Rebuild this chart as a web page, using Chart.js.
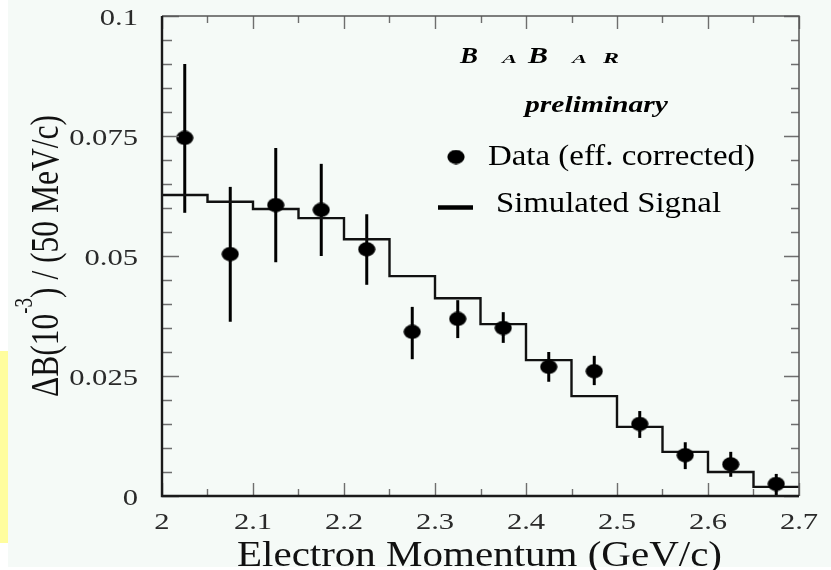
<!DOCTYPE html>
<html>
<head>
<meta charset="utf-8">
<script src="https://cdn.jsdelivr.net/npm/chart.js@4/dist/chart.umd.min.js"></script>
<style>
  html, body { margin: 0; padding: 0; background: #ffffff; }
  #wrap { position: relative; width: 831px; height: 570px; }
  canvas { display: block; }
</style>
</head>
<body>
<div id="wrap"><canvas id="c" width="831" height="570"></canvas></div>
<script>
// ---- data ----
const xCenters   = [2.025, 2.075, 2.125, 2.175, 2.225, 2.275, 2.325, 2.375, 2.425, 2.475, 2.525, 2.575, 2.625, 2.675];
const dataValues = [0.0746, 0.0504, 0.0606, 0.0596, 0.0514, 0.0342, 0.0369, 0.0350, 0.0269, 0.0260, 0.0150, 0.0085, 0.0066, 0.0025];
const errUpper   = [0.0900, 0.0644, 0.0725, 0.0692, 0.0587, 0.0394, 0.0408, 0.0383, 0.0300, 0.0292, 0.0177, 0.0112, 0.0092, 0.0046];
const errLower   = [0.0590, 0.0363, 0.0487, 0.0500, 0.0440, 0.0285, 0.0329, 0.0319, 0.0238, 0.0231, 0.0121, 0.0056, 0.0040, 0.0002];
const binEdges   = [2.00, 2.05, 2.10, 2.15, 2.20, 2.25, 2.30, 2.35, 2.40, 2.45, 2.50, 2.55, 2.60, 2.65, 2.70];
const simValues  = [0.0627, 0.0613, 0.0598, 0.0579, 0.0535, 0.0458, 0.0412, 0.0358, 0.0283, 0.0208, 0.0144, 0.0092, 0.0050, 0.0019];
const xTickLabels = ['2', '2.1', '2.2', '2.3', '2.4', '2.5', '2.6', '2.7'];
const yTickLabels = ['0', '0.025', '0.05', '0.075', '0.1'];
const xTitle = 'Electron Momentum (GeV/c)';
const yTitleParts = ['\u0394B(10', '-3', ') / (50 MeV/c)'];
const legendLabels = ['Data (eff. corrected)', 'Simulated Signal'];
const logoLetters = ['B', 'A', 'B', 'A', 'R'];
const prelimText = 'preliminary';

// ---- build datasets ----
const points = xCenters.map((x, i) => ({ x: x, y: dataValues[i] }));
const hist = binEdges.map((x, i) => ({ x: x, y: simValues[Math.min(i, simValues.length - 1)] }));

// elliptical marker (reference image is horizontally stretched)
const dot = document.createElement('canvas');
dot.width = 18; dot.height = 15;
(function () {
  const c = dot.getContext('2d');
  c.fillStyle = '#000';
  c.beginPath();
  c.ellipse(9, 7.5, 8.6, 7.2, 0, 0, Math.PI * 2);
  c.fill();
})();

const SERIF = '"Liberation Serif", "Times New Roman", serif';

function drawFit(ctx, text, x, y, font, targetW, sy, align, color) {
  ctx.save();
  ctx.font = font;
  const w = ctx.measureText(text).width;
  const sx = targetW ? targetW / w : 1;
  ctx.translate(x, y);
  ctx.scale(sx, sy || 1);
  ctx.textAlign = align || 'left';
  ctx.textBaseline = 'alphabetic';
  ctx.fillStyle = color || '#000';
  ctx.fillText(text, 0, 0);
  ctx.restore();
}
function drawStretch(ctx, text, x, y, font, sx, align, color) {
  ctx.save();
  ctx.font = font;
  ctx.translate(x, y);
  ctx.scale(sx, 1);
  ctx.textAlign = align || 'left';
  ctx.textBaseline = 'alphabetic';
  ctx.fillStyle = color || '#000';
  ctx.fillText(text, 0, 0);
  ctx.restore();
}

const decor = {
  id: 'decor',
  beforeDraw(chart) {
    const ctx = chart.ctx;
    ctx.save();
    ctx.fillStyle = '#ffffff';
    ctx.fillRect(0, 0, chart.width, chart.height);
    ctx.fillStyle = '#f5faf7';
    ctx.fillRect(8, 0, chart.width - 8, 567);
    ctx.fillStyle = '#fffd9e';
    ctx.fillRect(0, 351, 8, 192);
    ctx.restore();
  },
  beforeDatasetsDraw(chart) {
    const ctx = chart.ctx;
    const xs = chart.scales.x, ys = chart.scales.y;
    ctx.save();
    ctx.strokeStyle = '#000';
    ctx.lineWidth = 3;
    xCenters.forEach((x, i) => {
      const px = xs.getPixelForValue(x);
      ctx.beginPath();
      ctx.moveTo(px, ys.getPixelForValue(errUpper[i]));
      ctx.lineTo(px, ys.getPixelForValue(errLower[i]));
      ctx.stroke();
    });
    ctx.restore();
  },
  afterDatasetsDraw(chart) {
    const ctx = chart.ctx;
    const a = chart.chartArea;
    const xs = chart.scales.x, ys = chart.scales.y;
    ctx.save();
    // minor + major ticks (inside, all four sides)
    ctx.strokeStyle = '#6e6e6e';
    ctx.lineWidth = 1.4;
    const xMin = xs.min, xMax = xs.max, yMin = ys.min, yMax = ys.max;
    for (let k = 0; k <= Math.round((xMax - xMin) / 0.05); k++) {
      const v = xMin + k * 0.05;
      const px = Math.round(xs.getPixelForValue(v)) + 0.5;
      const major = k % 2 === 0;
      const lb = major ? 13 : 7;
      const lt = major ? 13 : 7;
      ctx.beginPath();
      ctx.moveTo(px, a.bottom); ctx.lineTo(px, a.bottom - lb);
      ctx.moveTo(px, a.top); ctx.lineTo(px, a.top + lt);
      ctx.stroke();
    }
    for (let k = 0; k <= Math.round((yMax - yMin) / 0.005); k++) {
      const v = yMin + k * 0.005;
      const py = Math.round(ys.getPixelForValue(v)) + 0.5;
      const major = k % 5 === 0;
      const ll = major ? 17 : 10;
      const lr = major ? 15 : 8;
      ctx.beginPath();
      ctx.moveTo(a.left, py); ctx.lineTo(a.left + ll, py);
      ctx.moveTo(a.right, py); ctx.lineTo(a.right - lr, py);
      ctx.stroke();
    }
    // frame
    ctx.strokeStyle = '#555';
    ctx.lineWidth = 1.5;
    ctx.beginPath();
    ctx.moveTo(a.left, a.top); ctx.lineTo(a.right, a.top); ctx.lineTo(a.right, a.bottom);
    ctx.stroke();
    ctx.strokeStyle = '#1a1a1a';
    ctx.lineWidth = 2.4;
    ctx.beginPath();
    ctx.moveTo(a.left, a.top); ctx.lineTo(a.left, a.bottom); ctx.lineTo(a.right, a.bottom);
    ctx.stroke();
    ctx.restore();
  },
  afterDraw(chart) {
    const ctx = chart.ctx;
    const xs = chart.scales.x, ys = chart.scales.y;
    const tickFont = '23px ' + SERIF;
    // y tick labels
    ys.ticks.forEach((t, i) => {
      const py = ys.getPixelForValue(t.value);
      drawStretch(ctx, yTickLabels[i] !== undefined ? yTickLabels[i] : t.label, 138, py + 9, tickFont, 1.33, 'right', '#2a2a2a');
    });
    // x tick labels
    xs.ticks.forEach((t, i) => {
      const px = xs.getPixelForValue(t.value);
      drawStretch(ctx, xTickLabels[i] !== undefined ? xTickLabels[i] : t.label, px, 529, tickFont, 1.33, 'center', '#2a2a2a');
    });
    // x title
    drawFit(ctx, xTitle, 237, 566, '35px ' + SERIF, 485, 1, 'left', '#111');
    // y title (rotated, with superscript)
    ctx.save();
    ctx.translate(58, 397);
    ctx.rotate(-Math.PI / 2);
    const mainF = '30px ' + SERIF, supF = '18px ' + SERIF;
    ctx.font = mainF;
    const w0 = ctx.measureText(yTitleParts[0]).width;
    const w2 = ctx.measureText(yTitleParts[2]).width;
    ctx.font = supF;
    const w1 = ctx.measureText(yTitleParts[1]).width;
    const total = w0 + w1 + w2;
    const sAlong = 282 / total;
    ctx.scale(sAlong, 1.35);
    ctx.fillStyle = '#111';
    ctx.textBaseline = 'alphabetic';
    ctx.textAlign = 'left';
    ctx.font = mainF;
    ctx.fillText(yTitleParts[0], 0, 0);
    ctx.font = supF;
    ctx.fillText(yTitleParts[1], w0, -19);
    ctx.font = mainF;
    ctx.fillText(yTitleParts[2], w0 + w1, 0);
    ctx.restore();
    // BABAR logo
    const bi = 'italic bold ';
    const logoSpec = [
      { x: 460, size: 23, w: 18 },
      { x: 502, size: 13, w: 15 },
      { x: 528, size: 23, w: 20 },
      { x: 572, size: 13, w: 15 },
      { x: 603, size: 15, w: 16 }
    ];
    logoLetters.forEach((L, i) => {
      const s = logoSpec[i];
      drawFit(ctx, L, s.x, 63, bi + s.size + 'px ' + SERIF, s.w, 1, 'left', '#000');
    });
    drawFit(ctx, prelimText, 525, 112, bi + '24px ' + SERIF, 143, 1, 'left', '#000');
    // legend
    ctx.save();
    ctx.drawImage(dot, 456 - 9, 157 - 7.5);
    ctx.strokeStyle = '#000';
    ctx.lineWidth = 4.5;
    ctx.beginPath();
    ctx.moveTo(438, 207.5); ctx.lineTo(473, 207.5);
    ctx.stroke();
    ctx.restore();
    drawFit(ctx, legendLabels[0], 488, 165, '30px ' + SERIF, 267, 1, 'left', '#000');
    drawFit(ctx, legendLabels[1], 496, 212, '30px ' + SERIF, 225, 1, 'left', '#000');
  }
};

new Chart(document.getElementById('c'), {
  type: 'scatter',
  data: {
    datasets: [
      {
        type: 'scatter',
        label: legendLabels[0],
        data: points,
        pointStyle: dot,
        pointRadius: 8,
        backgroundColor: '#000',
        borderColor: '#000'
      },
      {
        type: 'line',
        label: legendLabels[1],
        data: hist,
        stepped: 'before',
        borderColor: '#111',
        borderWidth: 2.4,
        pointRadius: 0,
        fill: false,
        tension: 0
      }
    ]
  },
  options: {
    responsive: false,
    animation: false,
    devicePixelRatio: 1,
    events: [],
    layout: { padding: { top: 16, right: 32, left: 0, bottom: 0 } },
    plugins: { legend: { display: false }, tooltip: { enabled: false }, title: { display: false } },
    scales: {
      x: {
        type: 'linear', min: 2.0, max: 2.7,
        ticks: { stepSize: 0.1, display: false },
        grid: { display: false }, border: { display: false },
        afterFit(s) { s.height = 74; }
      },
      y: {
        type: 'linear', min: 0, max: 0.1,
        ticks: { stepSize: 0.025, display: false },
        grid: { display: false }, border: { display: false },
        afterFit(s) { s.width = 162; }
      }
    }
  },
  plugins: [decor]
});
</script>
</body>
</html>
